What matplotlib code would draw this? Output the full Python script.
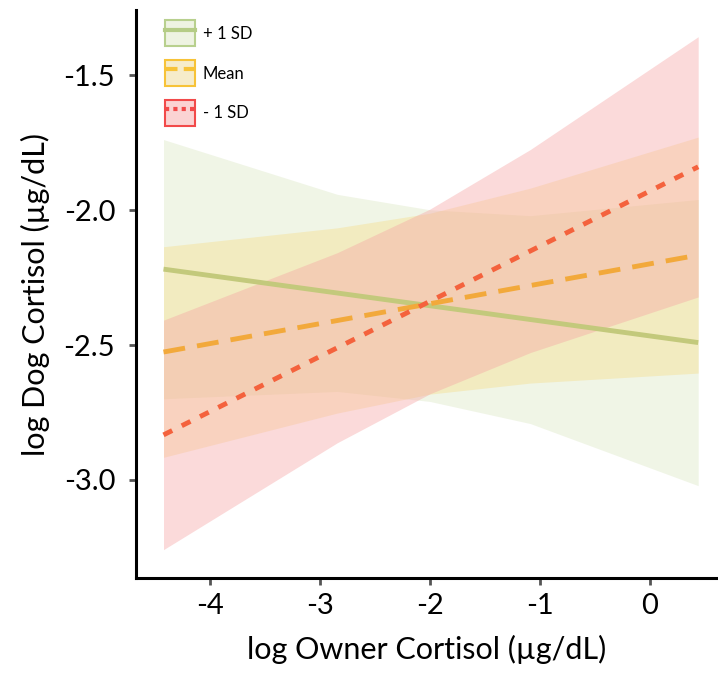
"""Simple slopes of dog cortisol on owner cortisol, with confidence bands."""

import matplotlib.pyplot as plt
from matplotlib.lines import Line2D
from matplotlib.patches import Patch

band_x = [-4.42, -2.84, -2.0, -1.086, 0.44]

# regression lines (start and end)
line_x = [-4.42, 0.44]
plus_sd_line = [-2.219, -2.491]
mean_line = [-2.526, -2.167]
minus_sd_line = [-2.833, -1.840]

# confidence bands
plus_sd_upper = [-1.739, -1.942, -1.999, -2.021, -1.961]
plus_sd_lower = [-2.699, -2.672, -2.709, -2.791, -3.021]
mean_upper = [-2.136, -2.066, -2.012, -1.919, -1.730]
mean_lower = [-2.916, -2.752, -2.682, -2.641, -2.604]
minus_sd_upper = [-2.408, -2.158, -1.997, -1.776, -1.358]
minus_sd_lower = [-3.258, -2.862, -2.681, -2.528, -2.322]

labels = ["+ 1 SD", "Mean", "- 1 SD"]
x_ticks = [-4, -3, -2, -1, 0]
y_ticks = [-3.0, -2.5, -2.0, -1.5]

plt.rcParams["font.family"] = ["Lato", "DejaVu Sans"]

fig = plt.figure(figsize=(7.18, 6.82), dpi=100)
ax = fig.add_axes([0.1894, 0.1525, 0.8106, 0.8325])

green_fill, green_line = "#c5d89e", "#c3c97c"
orange_fill, orange_line = "#f7d56a", "#f2a93b"
red_fill, red_line = "#f6a3a3", "#f4623d"

ax.fill_between(band_x, plus_sd_lower, plus_sd_upper, color=green_fill,
                alpha=0.25, lw=0)
ax.fill_between(band_x, mean_lower, mean_upper, color=orange_fill,
                alpha=0.3, lw=0)
ax.fill_between(band_x, minus_sd_lower, minus_sd_upper, color=red_fill,
                alpha=0.4, lw=0)

ax.plot(line_x, plus_sd_line, color=green_line, lw=3.5, solid_capstyle="butt")
ax.plot(line_x, mean_line, color=orange_line, lw=3.5, dashes=(4.5, 2.5))
ax.plot(line_x, minus_sd_line, color=red_line, lw=3.5, dashes=(2, 2.2))

ax.set_xlim(-4.67, 0.62)
ax.set_ylim(-3.363, -1.26)
ax.set_xticks(x_ticks)
ax.set_xticklabels([str(t) for t in x_ticks])
ax.set_yticks(y_ticks)
ax.set_yticklabels([f"{t:.1f}" for t in y_ticks])

for side in ("top", "right"):
    ax.spines[side].set_visible(False)
for side in ("left", "bottom"):
    ax.spines[side].set_linewidth(2.2)
ax.tick_params(axis="both", labelsize=21, length=5, width=2, color="#555555")
ax.tick_params(axis="x", pad=6)
ax.tick_params(axis="y", pad=10)

ax.set_xlabel("log Owner Cortisol (µg/dL)", fontsize=22, labelpad=11)
ax.set_ylabel("log Dog Cortisol (µg/dL)", fontsize=22, labelpad=10)

handles = [
    (Patch(facecolor="#eef3e2", edgecolor="#b8d08e", lw=1.5),
     Line2D([], [], color="#b5cc86", lw=3)),
    (Patch(facecolor="#f6ecca", edgecolor="#f7c338", lw=1.5),
     Line2D([], [], color="#f7c338", lw=3, dashes=(3, 1.5))),
    (Patch(facecolor="#fbd3d3", edgecolor="#f24a4a", lw=1.5),
     Line2D([], [], color="#f24a4a", lw=3, dashes=(1, 1))),
]
ax.legend(handles, labels, loc="upper left", bbox_to_anchor=(0.05, 0.982),
          borderaxespad=0, borderpad=0, frameon=False, fontsize=12,
          handlelength=1.8, handleheight=2.0, labelspacing=0.85,
          handletextpad=0.45)

fig.savefig("out.png", dpi=100)
